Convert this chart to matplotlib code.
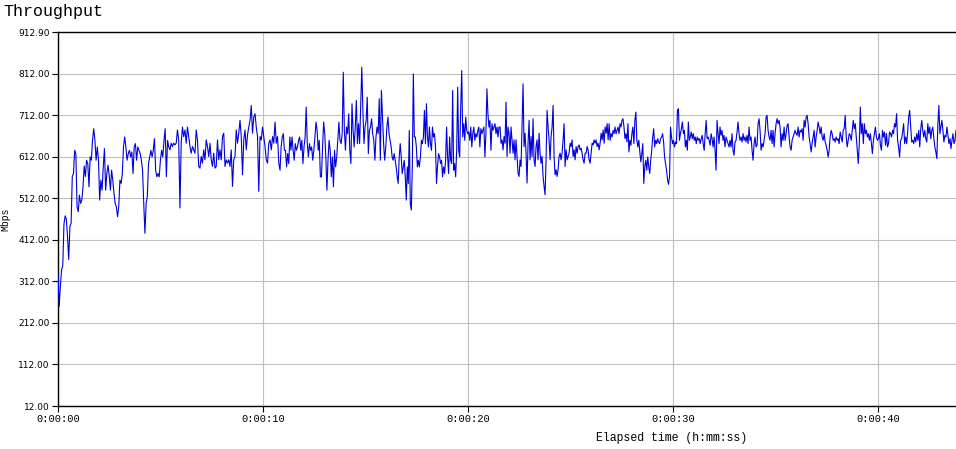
import numpy as np
import matplotlib
matplotlib.use('Agg')
import matplotlib.pyplot as plt

# Throughput samples (Mbps) in eight consecutive stretches
seg_edges = [0.0, 5.46, 10.83, 16.20, 21.56, 26.93, 32.29, 38.15, 43.80]

seg1 = [330, 252, 300, 340, 350, 450, 470, 462, 420, 365, 445, 452, 565, 572, 628, 620,
        492, 480, 520, 500, 508, 540, 590, 565, 604, 596, 540, 612, 604, 652, 680, 652,
        604, 636, 604, 508, 556, 532, 588, 632, 532, 572, 592, 568, 532, 580, 556, 524,
        500, 492, 468, 492, 556, 548, 572, 636, 660, 636, 604, 620, 628, 612, 624, 572,
        636, 644, 604, 636, 628, 620, 604, 580, 500, 428, 500, 516, 596, 612, 628, 612,
        628, 656, 580, 564, 572, 564, 604, 628, 612, 652, 680, 564, 652, 636]
seg2 = [629, 645, 637, 645, 641, 645, 677, 653, 489, 645, 684, 661, 677, 645, 684, 661,
        637, 621, 637, 629, 621, 677, 653, 589, 585, 613, 597, 629, 605, 653, 637, 613,
        645, 605, 589, 621, 585, 589, 653, 605, 629, 605, 661, 669, 589, 605, 597, 605,
        589, 629, 541, 605, 613, 677, 645, 669, 700, 661, 569, 653, 677, 629, 665, 684,
        700, 736, 669, 708, 716, 684, 661, 529, 661, 653, 684, 661, 637, 605, 597, 645,
        653, 629, 661, 645, 696, 645, 661, 597]
seg3 = [580, 636, 660, 668, 628, 628, 588, 620, 596, 660, 628, 660, 628, 604, 644, 628,
        636, 652, 660, 628, 652, 596, 636, 660, 732, 644, 612, 644, 628, 636, 604, 628,
        660, 696, 676, 628, 652, 564, 564, 636, 696, 668, 612, 532, 604, 652, 628, 564,
        612, 540, 628, 588, 612, 652, 696, 652, 644, 668, 816, 676, 628, 684, 668, 716,
        628, 596, 740, 676, 636, 684, 748, 644, 692, 644, 740, 828, 724, 644, 684, 700,
        756, 620, 676, 684, 704, 668, 652, 604, 660, 684, 668, 752, 604, 772, 708, 644,
        604, 636, 684, 708, 668]
seg4 = [652, 636, 612, 604, 620, 604, 588, 564, 548, 612, 644, 612, 572, 588, 604, 564,
        508, 588, 548, 676, 500, 484, 588, 812, 660, 660, 636, 588, 604, 588, 612, 652,
        644, 660, 724, 644, 740, 660, 636, 684, 644, 628, 684, 660, 668, 636, 548, 588,
        620, 612, 596, 604, 564, 588, 572, 604, 684, 612, 572, 660, 604, 596, 772, 580,
        596, 564, 628, 780, 628, 612, 732, 820, 660, 692, 652, 708, 676, 668, 672, 652,
        684, 636, 668, 684, 652, 668, 660, 676, 684, 636, 680, 668, 676, 684, 612, 668,
        776, 716, 684, 700, 628, 692, 676, 684, 692, 668, 684, 660, 684]
seg5 = [684, 645, 653, 629, 661, 645, 744, 613, 684, 669, 621, 684, 653, 621, 653, 605,
        653, 613, 573, 565, 605, 589, 684, 788, 637, 669, 621, 549, 645, 700, 605, 661,
        613, 704, 605, 589, 637, 653, 605, 669, 621, 597, 613, 565, 541, 521, 605, 724,
        684, 653, 605, 661, 684, 736, 613, 569, 581, 565, 581, 613, 621, 605, 621, 653,
        692, 589, 629, 605, 613, 621, 645, 637, 653, 613, 629, 605, 637, 621, 637, 641,
        629, 633, 621, 605, 597, 621, 621, 637, 629, 605, 597, 621, 645, 641, 653, 645,
        653, 637, 645, 629, 645, 669, 653, 677, 645, 684, 669, 692, 653, 692]
seg6 = [652, 668, 660, 676, 668, 684, 668, 676, 684, 668, 692, 684, 700, 704, 684, 656,
        668, 648, 692, 624, 652, 640, 668, 684, 644, 700, 720, 652, 636, 652, 624, 600,
        620, 644, 548, 588, 604, 580, 612, 588, 572, 604, 628, 660, 680, 636, 652, 644,
        656, 648, 644, 656, 660, 668, 648, 612, 596, 580, 556, 546, 564, 684, 660, 644,
        652, 636, 648, 644, 724, 728, 652, 668, 680, 696, 668, 676, 636, 652, 628, 696,
        652, 660, 672, 656, 668, 652, 660, 644, 660, 652, 656, 644, 656, 664, 644, 628,
        668, 700, 656, 660, 652, 640, 668, 656, 636, 660, 628, 580, 700, 668, 644]
seg7 = [684, 664, 676, 652, 664, 636, 660, 652, 644, 636, 652, 636, 668, 628, 616, 648,
        652, 672, 696, 668, 652, 660, 648, 668, 652, 660, 648, 664, 644, 684, 652, 660,
        628, 604, 644, 660, 636, 640, 692, 704, 676, 628, 644, 636, 652, 668, 708, 712,
        676, 660, 652, 676, 644, 676, 636, 668, 692, 704, 692, 700, 684, 636, 668, 652,
        684, 652, 668, 688, 692, 660, 636, 628, 652, 660, 668, 676, 668, 664, 684, 660,
        676, 672, 680, 652, 700, 684, 708, 712, 692, 660, 644, 624, 644, 660, 676, 636,
        660, 676, 696, 684, 668, 684, 660, 652, 668, 648, 640, 628, 612, 628, 660, 676,
        668, 652, 656, 648, 660, 652, 656, 644]
seg8 = [672, 660, 648, 676, 680, 712, 660, 636, 652, 668, 664, 652, 676, 700, 680, 692,
        660, 628, 596, 644, 732, 668, 692, 644, 692, 668, 676, 660, 668, 652, 668, 644,
        620, 652, 668, 684, 660, 652, 656, 668, 640, 628, 676, 660, 672, 640, 668, 636,
        644, 672, 668, 660, 676, 668, 692, 684, 716, 652, 636, 612, 652, 656, 672, 692,
        644, 660, 644, 672, 708, 724, 684, 648, 652, 644, 660, 648, 668, 652, 676, 636,
        680, 700, 676, 660, 676, 656, 648, 692, 668, 684, 656, 676, 684, 656, 636, 624,
        608, 692, 736, 668, 684, 700, 676, 648, 664, 660, 684, 664, 644, 656, 632, 652,
        668, 644, 652, 676]

y_ticks = [12, 112, 212, 312, 412, 512, 612, 712, 812, 912.9]
x_ticks = [0, 10, 20, 30, 40]
x_labels = ['0:00:00', '0:00:10', '0:00:20', '0:00:30', '0:00:40']

segs = [seg1, seg2, seg3, seg4, seg5, seg6, seg7, seg8]
t_parts = []
for i, s in enumerate(segs):
    last = (i == len(segs) - 1)
    t_parts.append(np.linspace(seg_edges[i], seg_edges[i + 1], len(s), endpoint=last))
t = np.concatenate(t_parts)
mbps = np.concatenate([np.array(s, dtype=float) for s in segs])

fig = plt.figure(figsize=(9.56, 4.49), dpi=100)
ax = fig.add_axes([58 / 956, 43 / 449, 898 / 956, 374 / 449])

ax.plot(t, mbps, color='#0000dd', linewidth=0.8, zorder=3)

ax.set_xlim(0, 43.8)
ax.set_ylim(12, 912.9)
ax.set_yticks(y_ticks)
ax.set_yticklabels(['%.2f' % v for v in y_ticks], fontsize=6.5, family='DejaVu Sans')
ax.set_xticks(x_ticks)
ax.set_xticklabels(x_labels, fontsize=7.5, family='Liberation Mono')
ax.tick_params(axis='both', length=4, width=0.8, color='black', pad=2)
ax.grid(True, color='#c0c0c0', linewidth=0.8, zorder=0)

ax.spines['right'].set_visible(False)
for side in ['left', 'bottom', 'top']:
    ax.spines[side].set_color('black')
    ax.spines[side].set_linewidth(1.0)

ax.set_xlabel('Elapsed time (h:mm:ss)', fontsize=8.3, family='Liberation Mono')
ax.xaxis.set_label_coords((672 - 58) / 898, -0.07)
ax.set_ylabel('Mbps', fontsize=7, family='Liberation Mono')
ax.yaxis.set_label_coords((10 - 58) / 898, 0.5)

fig.text(3 / 956, 1 - 4 / 449, 'Throughput', fontsize=12, family='Liberation Mono',
         va='top', ha='left')

plt.savefig('out.png', dpi=100)
